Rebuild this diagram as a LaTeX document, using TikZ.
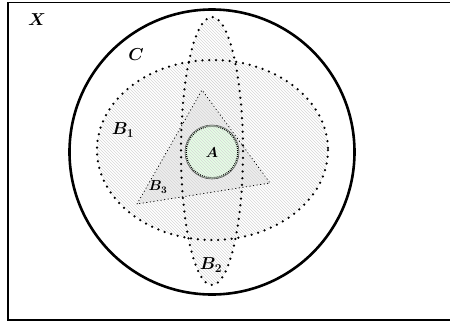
\documentclass[tikz,border=0pt]{standalone}
\usepackage{amsmath,bm}
\usetikzlibrary{patterns}
\tikzset{
  bigdots/.style={line width=2.5pt, line cap=round, dash pattern=on 0pt off 6.8pt},
  hatch/.style={pattern=north west lines, pattern color=gray!32},
  lbl/.style={inner sep=0pt, font=\LARGE}
}
\begin{document}
\begin{tikzpicture}[x=1pt,y=-1pt]
\useasboundingbox (0,0) rectangle (450,322);
\clip (0,0) rectangle (450,322);
% universe
\draw[line width=1.4pt] (8,2.5) rectangle (460,320);
% B1 and B2 hatched
\fill[hatch] (212.5,150) ellipse [x radius=115.5, y radius=90];
\fill[hatch] (212,151) ellipse [x radius=31, y radius=134];
% B3 triangle
\fill[gray!14] (137,204) -- (202,90) -- (270,183) -- cycle;
\fill[hatch] (137,204) -- (202,90) -- (270,183) -- cycle;
\draw[line width=0.8pt, dash pattern=on 0.6pt off 3pt, line cap=round] (137,204) -- (202,90) -- (270,183) -- cycle;
% A
\fill[green!10] (212,152) circle (27);
\fill[hatch] (212,152) circle (27);
\draw[gray!70!black, line width=0.6pt] (212,152) circle (27);
\draw[black, line width=1.3pt, dash pattern=on 0.8pt off 1.2pt] (212,152) circle (25.8);
% outlines
\draw[bigdots] (212.5,150) ellipse [x radius=115.5, y radius=90];
\draw[bigdots] (212,151) ellipse [x radius=31, y radius=134];
% C
\draw[line width=2.6pt] (212,152) circle (142.5);
% labels
\node[lbl] (X) at (37,20) {$\bm{X}$};
\node[lbl] (C) at (136,55) {$\bm{C}$};
\node[lbl] (B1) at (123,130) {$\bm{B_1}$};
\node[lbl] (B2) at (211,265) {$\bm{B_2}$};
\node[lbl, font=\Large] (B3) at (158,187) {$\bm{B_3}$};
\node[lbl, font=\Large] (A) at (212,153) {$\bm{A}$};
\end{tikzpicture}
\end{document}
